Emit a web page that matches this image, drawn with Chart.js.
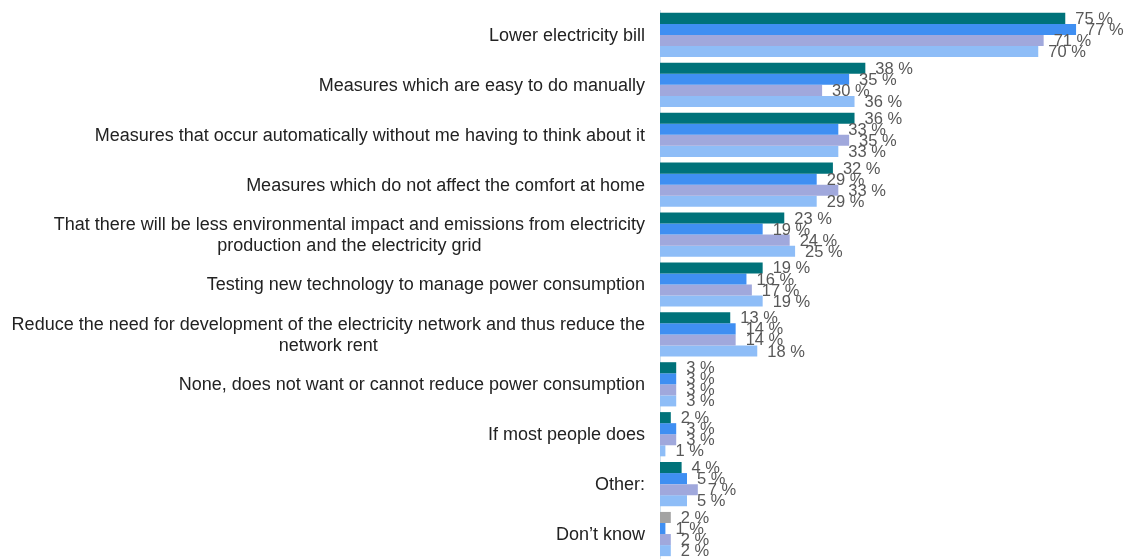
<!DOCTYPE html>
<html><head><meta charset="utf-8">
<script src="https://cdn.jsdelivr.net/npm/chart.js@4"></script>
<style>html,body{margin:0;padding:0;background:#fff;overflow:hidden}</style>
</head><body>
<canvas id="c" width="1128" height="559"></canvas>
<script>
const categories = [
  "Lower electricity bill",
  "Measures which are easy to do manually",
  "Measures that occur automatically without me having to think about it",
  "Measures which do not affect the comfort at home",
  ["That there will be less environmental impact and emissions from electricity", "production and the electricity grid"],
  "Testing new technology to manage power consumption",
  ["Reduce the need for development of the electricity network and thus reduce the", "network rent"],
  "None, does not want or cannot reduce power consumption",
  "If most people does",
  "Other:",
  "Don\u2019t know"
];
const seriesNames = ["Series 1", "Series 2", "Series 3", "Series 4"];
const series1 = [75, 38, 36, 32, 23, 19, 13, 3, 2, 4, 2];
const series2 = [77, 35, 33, 29, 19, 16, 14, 3, 3, 5, 1];
const series3 = [71, 30, 35, 33, 24, 17, 14, 3, 3, 7, 2];
const series4 = [70, 36, 33, 29, 25, 19, 18, 3, 1, 5, 2];

const colors = ["#00727a", "#3f8ff2", "#a0a8dc", "#8ebdf7"];
const series1Colors = series1.map((v, i) => i === series1.length - 1 ? "#a3a3a3" : colors[0]);

const FONT = "'Liberation Sans', Arial, sans-serif";

const valueLabels = {
  id: 'valueLabels',
  afterDatasetsDraw(chart) {
    const ctx = chart.ctx;
    ctx.save();
    ctx.font = "16.5px " + FONT;
    ctx.fillStyle = "#585858";
    ctx.textAlign = "left";
    ctx.textBaseline = "middle";
    chart.data.datasets.forEach((ds, i) => {
      const meta = chart.getDatasetMeta(i);
      meta.data.forEach((bar, j) => {
        ctx.fillText(ds.data[j] + " %", bar.x + 10, bar.y + 1);
      });
    });
    ctx.restore();
  }
};

const categoryLabels = {
  id: 'categoryLabels',
  afterDraw(chart) {
    const ctx = chart.ctx;
    const yScale = chart.scales.y;
    ctx.save();
    ctx.font = "18px " + FONT;
    ctx.fillStyle = "#222222";
    ctx.textBaseline = "middle";
    ctx.textAlign = "center";
    const right = chart.chartArea.left - 15;
    const lineH = 21;
    chart.data.labels.forEach((lab, i) => {
      const lines = Array.isArray(lab) ? lab : [lab];
      const cy = yScale.getPixelForValue(i);
      const maxW = Math.max(...lines.map(l => ctx.measureText(l).width));
      lines.forEach((ln, k) => {
        const yy = cy + (k - (lines.length - 1) / 2) * lineH + 1;
        ctx.fillText(ln, right - maxW / 2, yy);
      });
    });
    ctx.restore();
  }
};

new Chart(document.getElementById('c'), {
  type: 'bar',
  data: {
    labels: categories,
    datasets: [
      { label: seriesNames[0], data: series1, backgroundColor: series1Colors },
      { label: seriesNames[1], data: series2, backgroundColor: colors[1] },
      { label: seriesNames[2], data: series3, backgroundColor: colors[2] },
      { label: seriesNames[3], data: series4, backgroundColor: colors[3] }
    ]
  },
  options: {
    indexAxis: 'y',
    responsive: false,
    animation: false,
    devicePixelRatio: 1,
    layout: { padding: { top: 10, bottom: 0, left: 0, right: 6 } },
    datasets: { bar: { categoryPercentage: 0.886, barPercentage: 1.0 } },
    plugins: { legend: { display: false }, tooltip: { enabled: false } },
    scales: {
      x: { display: false, min: 0, max: 85.5 },
      y: {
        ticks: { display: false },
        grid: { display: false, drawTicks: false },
        border: { display: true, color: "#d3e2ee", width: 1 },
        afterFit(scale) { scale.width = 660; }
      }
    }
  },
  plugins: [valueLabels, categoryLabels]
});
</script>
</body></html>
